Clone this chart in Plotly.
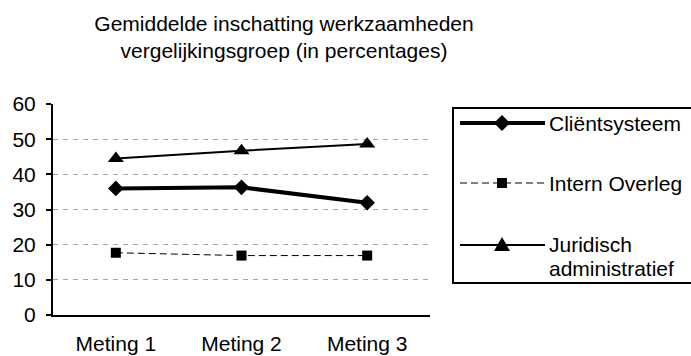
import plotly.graph_objects as go

# Meetmomenten en gemiddelde inschattingen (in procenten)
metingen = ["Meting 1", "Meting 2", "Meting 3"]
clientsysteem = [36.0, 36.3, 31.9]
intern_overleg = [17.7, 16.9, 16.9]
juridisch_admin = [44.5, 46.7, 48.6]
y_ticks = [0, 10, 20, 30, 40, 50, 60]

FONT = "Arial, Liberation Sans, sans-serif"
W, H = 691, 356
L, R, T, B = 53, 430, 104, 315  # plot area in pixels
PW, PH = R - L, B - T


def px(x):
    return (x - L) / PW


def py(y):
    return (B - y) / PH


fig = go.Figure()

fig.add_trace(go.Scatter(
    x=metingen, y=clientsysteem, name="Cliëntsysteem", mode="lines+markers",
    line=dict(color="black", width=4),
    marker=dict(symbol="diamond", size=12, color="black"),
    showlegend=False,
))
fig.add_trace(go.Scatter(
    x=metingen, y=intern_overleg, name="Intern Overleg", mode="lines+markers",
    line=dict(color="black", width=1, dash="7px,4px"),
    marker=dict(symbol="square", size=10, color="black"),
    showlegend=False,
))
fig.add_trace(go.Scatter(
    x=metingen, y=juridisch_admin, name="Juridisch administratief", mode="lines+markers",
    line=dict(color="black", width=2),
    marker=dict(symbol="triangle-up", size=14, color="black"),
    showlegend=False,
))

# Legend frame: left, top and bottom edges (it runs past the right edge)
box_l, box_r, box_t, box_b = 453, 691, 108, 283
frame = dict(color="black", width=2)
shapes = [
    dict(type="line", xref="paper", yref="paper",
         x0=px(box_l), x1=px(box_r), y0=py(box_t), y1=py(box_t), line=frame, layer="above"),
    dict(type="line", xref="paper", yref="paper",
         x0=px(box_l), x1=px(box_r), y0=py(box_b), y1=py(box_b), line=frame, layer="above"),
    dict(type="line", xref="paper", yref="paper",
         x0=px(box_l), x1=px(box_l), y0=py(box_t - 1), y1=py(box_b + 1), line=frame, layer="above"),
]
annotations = []

legend_rows = [
    ("Cliëntsysteem", 123, dict(color="black", width=4), "diamond"),
    ("Intern Overleg", 183, dict(color="black", width=1, dash="7px,4px"), "square"),
    ("Juridisch", 245, dict(color="black", width=2), "triangle"),
]
for label, yy, ln, sym in legend_rows:
    shapes.append(dict(type="line", xref="paper", yref="paper",
                       x0=px(460), x1=px(545), y0=py(yy), y1=py(yy),
                       line=ln, layer="above"))
    cx = 502
    if sym == "diamond":
        path = (f"M {px(cx-8)} {py(yy)} L {px(cx)} {py(yy-8)} "
                f"L {px(cx+8)} {py(yy)} L {px(cx)} {py(yy+8)} Z")
    elif sym == "square":
        path = (f"M {px(cx-5)} {py(yy-5)} L {px(cx+5)} {py(yy-5)} "
                f"L {px(cx+5)} {py(yy+5)} L {px(cx-5)} {py(yy+5)} Z")
    else:
        path = (f"M {px(cx-8)} {py(yy+6)} L {px(cx+8)} {py(yy+6)} "
                f"L {px(cx)} {py(yy-8)} Z")
    shapes.append(dict(type="path", xref="paper", yref="paper", path=path,
                       fillcolor="black", line=dict(color="black", width=0),
                       layer="above"))

legend_text = [("Cliëntsysteem", 123), ("Intern Overleg", 183),
               ("Juridisch", 244), ("administratief", 268)]
for txt, yy in legend_text:
    annotations.append(dict(text=txt, xref="paper", yref="paper",
                            x=px(547), y=py(yy), xanchor="left", yanchor="middle",
                            showarrow=False, font=dict(family=FONT, size=21, color="black")))

fig.update_layout(
    width=W, height=H,
    margin=dict(l=L, r=W - R, t=T, b=H - B, pad=0),
    paper_bgcolor="white", plot_bgcolor="white",
    title=dict(text="Gemiddelde inschatting werkzaamheden<br>vergelijkingsgroep (in percentages)",
               x=284 / W, xanchor="center", y=1 - 31 / H, yanchor="middle",
               font=dict(family=FONT, size=21, color="black")),
    font=dict(family=FONT, size=21, color="black"),
    shapes=shapes,
    annotations=annotations,
    xaxis=dict(
        type="category", range=[-0.5, 2.5], showgrid=False,
        showline=True, linecolor="black", linewidth=2, ticks="",
        ticklabelstandoff=9, automargin=False,
        tickfont=dict(family=FONT, size=21, color="black"),
        zeroline=False, fixedrange=True,
    ),
    yaxis=dict(
        range=[0, 60], tickvals=y_ticks, showgrid=True,
        gridcolor="#a6a6a6", gridwidth=1, griddash="5px,5px",
        showline=True, linecolor="black", linewidth=2,
        ticks="outside", ticklen=5, tickwidth=2, tickcolor="black",
        ticklabelstandoff=6, automargin=False,
        tickfont=dict(family=FONT, size=21, color="black"),
        zeroline=False, fixedrange=True,
    ),
    showlegend=False,
)

fig.write_html("out.html")
